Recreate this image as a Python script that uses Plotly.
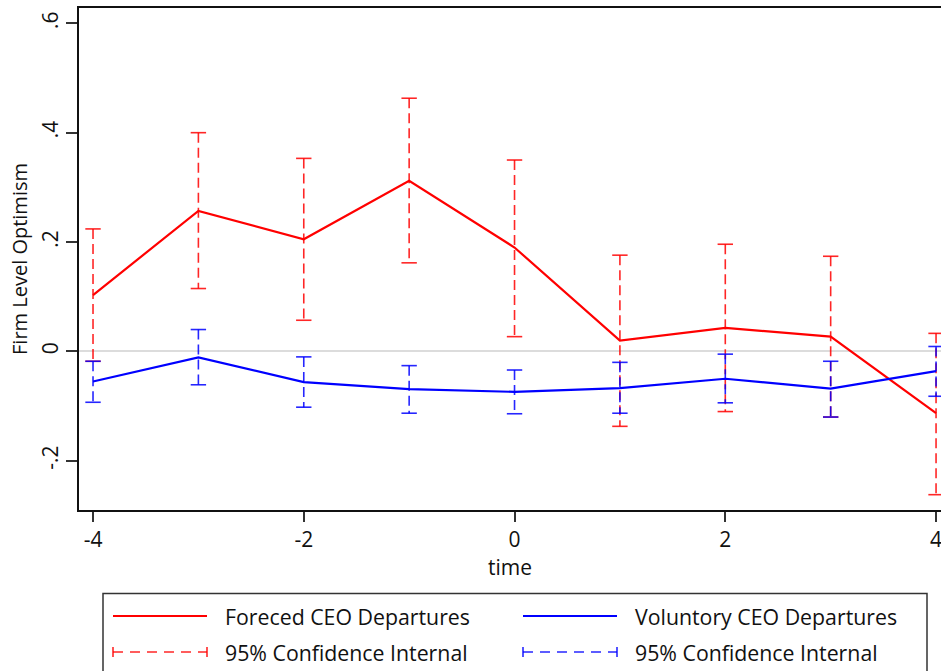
import plotly.graph_objects as go

# ---- data ----
time = [-4, -3, -2, -1, 0, 1, 2, 3, 4]
forced = [0.103, 0.257, 0.205, 0.312, 0.190, 0.020, 0.043, 0.027, -0.113]
forced_hi = [0.224, 0.400, 0.353, 0.463, 0.350, 0.176, 0.196, 0.174, 0.033]
forced_lo = [-0.018, 0.115, 0.057, 0.162, 0.027, -0.137, -0.110, -0.120, -0.262]
vol = [-0.055, -0.011, -0.056, -0.069, -0.074, -0.067, -0.050, -0.068, -0.036]
vol_hi = [-0.018, 0.040, -0.010, -0.026, -0.034, -0.020, -0.005, -0.018, 0.009]
vol_lo = [-0.093, -0.061, -0.102, -0.113, -0.114, -0.113, -0.094, -0.120, -0.082]

x_ticks = [-4, -2, 0, 2, 4]
x_ticktext = ["-4", "-2", "0", "2", "4"]
y_ticks = [-0.2, 0, 0.2, 0.4, 0.6]
y_ticktext = ["-.2", "0", ".2", ".4", ".6"]

series_names = ["Foreced CEO Departures", "Voluntory CEO Departures"]
ci_name = "95% Confidence Internal"

RED = "#ff0000"
BLUE = "#0000ff"
RED_CI = "rgba(255,0,0,0.85)"
BLUE_CI = "rgba(0,0,255,0.85)"
FONT = "Open Sans"

W, H = 941, 671
ML, MR, MT, MB = 79, 0, 8, 161


def ci_traces(xs, lo, hi, color):
    lx, ly = [], []
    for x, a, b in zip(xs, lo, hi):
        lx += [x, x, None]
        ly += [b, a, None]
    line = go.Scatter(x=lx, y=ly, mode="lines", showlegend=False, hoverinfo="skip",
                      line=dict(color=color, width=1.6, dash="10px,5px"))
    caps = go.Scatter(x=list(xs) + list(xs), y=list(hi) + list(lo), mode="markers",
                      showlegend=False, hoverinfo="skip",
                      marker=dict(symbol="line-ew", size=11,
                                  line=dict(color=color, width=1.6)))
    return [line, caps]


fig = go.Figure()
for t in ci_traces(time, forced_lo, forced_hi, RED_CI):
    fig.add_trace(t)
for t in ci_traces(time, vol_lo, vol_hi, BLUE_CI):
    fig.add_trace(t)
fig.add_trace(go.Scatter(x=time, y=forced, mode="lines", name=series_names[0],
                         line=dict(color=RED, width=2.2), showlegend=False))
fig.add_trace(go.Scatter(x=time, y=vol, mode="lines", name=series_names[1],
                         line=dict(color=BLUE, width=2.2), showlegend=False))

# ---- custom legend (paper coordinates from on-screen pixel positions) ----
pw = W - ML - MR
ph = H - MT - MB


def px(xs):
    return (xs - ML) / pw


def py(ys):
    return (H - MB - ys) / ph


shapes = []
annotations = []
shapes.append(dict(type="rect", xref="paper", yref="paper",
                   x0=px(103), x1=px(927), y0=py(593.5), y1=py(700),
                   line=dict(color="#333333", width=1.5), fillcolor="rgba(0,0,0,0)"))
row1, row2 = 616, 652
cols = [(113, 207, 223), (523, 617, 633)]
colors = [RED, BLUE]
ci_colors = [RED_CI, BLUE_CI]
for (s0, s1, tx), c, cc, nm in zip(cols, colors, ci_colors, series_names):
    shapes.append(dict(type="line", xref="paper", yref="paper",
                       x0=px(s0), x1=px(s1), y0=py(row1), y1=py(row1),
                       line=dict(color=c, width=2.2)))
    shapes.append(dict(type="line", xref="paper", yref="paper",
                       x0=px(s0), x1=px(s1), y0=py(row2), y1=py(row2),
                       line=dict(color=cc, width=1.6, dash="10px,7px")))
    for xe in (s0, s1):
        shapes.append(dict(type="line", xref="paper", yref="paper",
                           x0=px(xe), x1=px(xe), y0=py(row2 - 5), y1=py(row2 + 5),
                           line=dict(color=cc, width=1.6)))
    annotations.append(dict(xref="paper", yref="paper", x=px(tx), y=py(row1),
                            xanchor="left", yanchor="middle", showarrow=False, text=nm,
                            font=dict(family=FONT, size=21.3, color="#111111")))
    annotations.append(dict(xref="paper", yref="paper", x=px(tx), y=py(row2),
                            xanchor="left", yanchor="middle", showarrow=False, text=ci_name,
                            font=dict(family=FONT, size=21.3, color="#111111")))

fig.update_layout(
    width=W, height=H, autosize=False,
    margin=dict(l=ML, r=MR, t=MT, b=MB, pad=0),
    paper_bgcolor="white", plot_bgcolor="white",
    font=dict(family=FONT, size=21, color="#111111"),
    showlegend=False,
    shapes=shapes, annotations=annotations,
    xaxis=dict(range=[-4.133, 4.047], tickmode="array", tickvals=x_ticks, ticktext=x_ticktext,
               ticks="outside", ticklen=10, tickwidth=1.5, tickcolor="#333333",
               showline=True, linewidth=2, linecolor="#111111", mirror=True,
               showgrid=False, zeroline=False, ticklabeloverflow="allow",
               tickfont=dict(family=FONT, size=21),
               title=dict(text="time", font=dict(family=FONT, size=21), standoff=0)),
    yaxis=dict(range=[-0.290, 0.628], tickmode="array", tickvals=y_ticks, ticktext=y_ticktext,
               tickangle=-90, ticks="outside", ticklen=11, tickwidth=1.5, tickcolor="#333333",
               showline=True, linewidth=2, linecolor="#111111", mirror=False,
               showgrid=False, zeroline=True, zerolinecolor="#dcdcdc", zerolinewidth=2,
               tickfont=dict(family=FONT, size=21),
               title=dict(text="Firm Level Optimism", font=dict(family=FONT, size=20), standoff=3)),
)

fig.write_html(
    "out.html",
    config={"displayModeBar": False},
    post_script="document.documentElement.style.margin='0';document.body.style.margin='0';"
                "document.body.style.overflow='hidden';",
)
